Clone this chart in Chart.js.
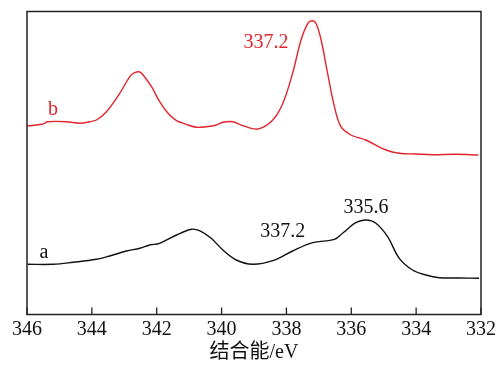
<!DOCTYPE html>
<html>
<head>
<meta charset="utf-8">
<script src="https://cdn.jsdelivr.net/npm/chart.js@4"></script>
<style>
html,body{margin:0;padding:0;background:#fff;}
#wrap{width:499px;height:365px;}
</style>
</head>
<body>
<div id="wrap"><canvas id="c" width="499" height="365"></canvas></div>
<script>
// Binding energy (eV) and intensity (arb. units)
const energyB = [345.99,345.60,345.45,345.38,344.78,344.37,344.06,343.86,343.55,343.14,342.83,342.68,342.52,342.42,342.16,341.91,341.65,341.39,341.09,340.78,340.47,340.16,339.96,339.65,339.34,338.88,338.42,338.11,337.81,337.55,337.34,337.21,337.09,336.93,336.73,336.52,336.32,336.01,335.55,334.93,334.52,334.01,333.50,332.78,332.08];
const intensityB = [188.5,190.0,191.2,192.8,192.8,191.2,192.8,194.5,202.8,221.2,237.8,241.8,242.5,239.5,227.8,212.8,201.2,193.8,190.2,187.2,187.8,189.5,192.2,192.8,188.8,185.5,194.5,211.2,241.2,274.5,291.2,293.8,291.2,274.5,241.2,207.8,187.8,179.5,174.5,164.5,161.2,160.5,159.8,160.2,159.5];
const energyA = [345.99,345.19,344.58,343.86,343.45,342.93,342.52,342.22,341.91,341.39,340.93,340.68,340.32,339.96,339.55,339.04,338.42,337.81,337.19,336.52,336.27,335.86,335.55,335.24,334.88,334.52,334.11,333.70,333.29,332.68,332.06];
const intensityA = [50.2,50.2,52.2,55.2,58.5,63.5,66.2,69.5,71.2,79.5,85.2,83.8,76.2,64.5,54.5,50.2,53.8,63.5,71.8,75.2,81.2,91.8,94.5,91.2,77.8,56.2,44.5,39.5,36.8,36.5,36.2];
const xTicks = [346,344,342,340,338,336,334,332];
const labelTexts = ['b','337.2','a','337.2','335.6'];
const labelEnergy = [345.2,338.63,345.48,338.11,335.55];
const labelIntensity = [199.5,266.5,56.5,77.5,101.5];
const labelSeries = [0,0,1,1,1];

const RED = '#e0252c';
const BLACK = '#111111';
const SERIF = '"Liberation Serif","Times New Roman",serif';

const toPts = (xs, ys) => xs.map((x, i) => ({x: x, y: ys[i]}));

const framePlugin = {
  id: 'frame',
  afterDatasetsDraw(chart) {
    const {ctx, chartArea: a, scales} = chart;
    const xs = scales.x;
    ctx.save();
    ctx.strokeStyle = '#222';
    ctx.lineWidth = 1.5;
    ctx.strokeRect(a.left, a.top, a.right - a.left, a.bottom - a.top);
    ctx.lineWidth = 1.3;
    ctx.beginPath();
    xTicks.forEach(v => {
      const px = xs.getPixelForValue(v);
      ctx.moveTo(px, a.bottom);
      ctx.lineTo(px, a.bottom - 7);
    });
    ctx.stroke();
    ctx.font = '20px ' + SERIF;
    ctx.textAlign = 'center';
    ctx.textBaseline = 'alphabetic';
    labelTexts.forEach((t, i) => {
      ctx.fillStyle = labelSeries[i] === 0 ? RED : BLACK;
      ctx.fillText(t, xs.getPixelForValue(labelEnergy[i]), scales.y.getPixelForValue(labelIntensity[i]));
    });
    ctx.restore();
  }
};

new Chart(document.getElementById('c'), {
  type: 'line',
  data: {
    datasets: [
      {label: 'b', data: toPts(energyB, intensityB), borderColor: RED, borderWidth: 1.4, pointRadius: 0, fill: false, tension: 0.35},
      {label: 'a', data: toPts(energyA, intensityA), borderColor: BLACK, borderWidth: 1.4, pointRadius: 0, fill: false, tension: 0.35}
    ]
  },
  options: {
    responsive: false,
    animation: false,
    devicePixelRatio: 1,
    layout: {padding: {left: 27, right: 17, top: 11.5, bottom: 0}},
    plugins: {legend: {display: false}, tooltip: {enabled: false}},
    scales: {
      x: {
        type: 'linear', reverse: true, min: 332, max: 346,
        grid: {display: false, drawTicks: false},
        border: {display: false},
        afterBuildTicks: s => { s.ticks = xTicks.map(v => ({value: v})); },
        afterFit: s => { s.height = 50.5; },
        ticks: {autoSkip: false, maxRotation: 0, padding: 3, color: '#111', font: {family: SERIF, size: 20}},
        title: {display: true, text: '结合能/eV', color: '#111', padding: {top: 0, bottom: 0}, font: {family: '"Liberation Serif","Noto Sans CJK SC",serif', size: 20}}
      },
      y: {type: 'linear', min: 0, max: 303, display: false}
    }
  },
  plugins: [framePlugin]
});
</script>
</body>
</html>
